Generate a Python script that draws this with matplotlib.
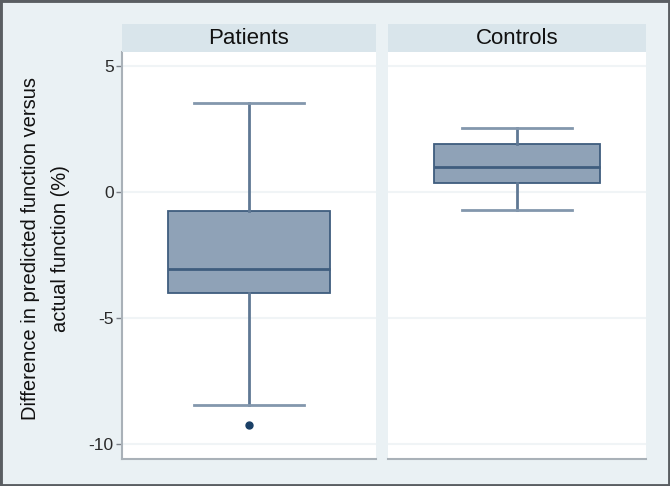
import matplotlib.pyplot as plt
import matplotlib.patches as patches

# box plot summary
groups = ['Patients', 'Controls']
whislo = [-8.45, -0.73]
q1 = [-4.02, 0.36]
med = [-3.06, 0.99]
q3 = [-0.75, 1.89]
whishi = [3.53, 2.52]
fliers = [[-9.26], []]
yticks = [-10, -5, 0, 5]
ylabel = 'Difference in predicted function versus\nactual function (%)'

plt.rcParams['font.family'] = ['Liberation Sans', 'DejaVu Sans']
plt.rcParams['axes.unicode_minus'] = False

bg = '#eaf1f4'
strip_col = '#d9e5eb'
fill = '#8fa2b7'
edge = '#3f5d7e'
cap_col = '#8397ad'
axis_col = '#a9b1b8'

fig = plt.figure(figsize=(6.7, 4.86), dpi=100)
fig.patch.set_facecolor(bg)
fig.patches.append(patches.Rectangle((0, 0), 1, 1, transform=fig.transFigure,
                                     fill=False, edgecolor='#5a5e62', linewidth=3.5))

W, H = 670, 486
panels = [(122, 376), (388, 646)]
top, bottom = 52, 459
strip_top = 24

for i, (x0, x1) in enumerate(panels):
    ax = fig.add_axes([x0 / W, 1 - bottom / H, (x1 - x0) / W, (bottom - top) / H])
    ax.set_facecolor('white')
    stats = [dict(whislo=whislo[i], q1=q1[i], med=med[i], q3=q3[i],
                  whishi=whishi[i], fliers=fliers[i])]
    ax.bxp(stats, positions=[0], widths=0.64, capwidths=0.43, patch_artist=True,
           boxprops=dict(facecolor=fill, edgecolor=edge, linewidth=1.3),
           medianprops=dict(color=edge, linewidth=2),
           whiskerprops=dict(color='#5f7894', linewidth=2),
           capprops=dict(color=cap_col, linewidth=2),
           flierprops=dict(marker='o', markersize=5, markerfacecolor='#1a3f66',
                           markeredgecolor='#1a3f66'))
    ax.set_xlim(-0.5, 0.5)
    ax.set_ylim(-10.6, 5.54)
    ax.set_xticks([])
    ax.set_yticks(yticks)
    ax.grid(axis='y', color='#f0f4f6', linewidth=1.5)
    ax.set_axisbelow(True)
    for s in ['top', 'right']:
        ax.spines[s].set_visible(False)
    ax.spines['bottom'].set_color(axis_col)
    ax.spines['bottom'].set_linewidth(1.5)
    if i == 0:
        ax.spines['left'].set_color(axis_col)
        ax.spines['left'].set_linewidth(1.5)
        ax.tick_params(axis='y', length=4, width=1, color='#7a8088',
                       labelsize=12.5, labelcolor='#2a2a2a', pad=2)
        ax.set_ylabel(ylabel, fontsize=14.5, color='#111111', labelpad=13,
                      linespacing=1.75)
        ax.yaxis.label.set_y(0.517)
    else:
        ax.spines['left'].set_visible(False)
        ax.tick_params(axis='y', length=0, labelleft=False)

    sax = fig.add_axes([x0 / W, 1 - top / H, (x1 - x0) / W, (top - strip_top) / H])
    sax.set_facecolor(strip_col)
    sax.set_xticks([])
    sax.set_yticks([])
    for s in sax.spines.values():
        s.set_visible(False)
    sax.text(0.5, 0.48, groups[i], ha='center', va='center', fontsize=16,
             color='#111111', transform=sax.transAxes)

fig.savefig('out.png', dpi=100, facecolor=bg)
